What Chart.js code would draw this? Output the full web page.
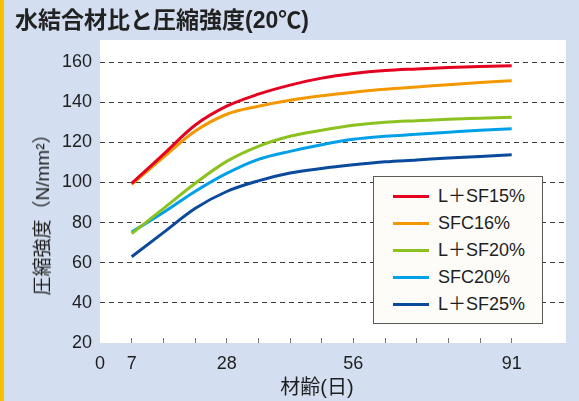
<!DOCTYPE html>
<html>
<head>
<meta charset="utf-8">
<script src="https://cdn.jsdelivr.net/npm/chart.js@4"></script>
<style>
  html, body { margin: 0; padding: 0; background: #d3def0; }
  #wrap { position: relative; width: 579px; height: 401px; overflow: hidden; background: #d3def0; }
  #wrap::before { content: ""; position: absolute; left: 0; top: 0; width: 4px; height: 401px; background: #f6c200; z-index: 3; }
  canvas { position: absolute; left: 0; top: 0; }
  .txt { position: absolute; color: #1e1e1e; white-space: nowrap; font-family: "Liberation Sans", "Noto Sans CJK JP", sans-serif; z-index: 2; }
  #title { left: 15px; top: 9px; font-size: 23px; line-height: 23px; font-weight: bold; color: #222; font-family: "Liberation Sans", "Noto Sans CJK JP", sans-serif; }
  #ytitle { left: 43px; top: 210px; font-size: 19px; line-height: 20px; transform: translate(-50%, -50%) rotate(-90deg); }
  #xtitle { left: 317px; top: 387px; font-size: 20px; line-height: 20px; transform: translate(-50%, -50%); }
  #legend { position: absolute; left: 373px; top: 176px; width: 168px; height: 146px; border: 1px solid #5a5a5a; background: #fdfcf8; box-sizing: content-box; padding: 0; z-index: 2; }
  #legend .row { position: absolute; left: 0; height: 27px; line-height: 27px; font-size: 18px; color: #1e1e1e; font-family: "Liberation Sans", "Noto Sans CJK JP", sans-serif; white-space: nowrap; }
  #legend .sw { position: absolute; left: 19px; top: 12px; width: 36px; height: 3px; }
  #legend .lb { position: absolute; left: 64px; top: 0; }
</style>
</head>
<body>
<div id="wrap">
  <canvas id="c" width="579" height="401"></canvas>
  <div class="txt" id="title">水結合材比と圧縮強度(20℃)</div>
  <div class="txt" id="ytitle">圧縮強度（N/mm²）</div>
  <div class="txt" id="xtitle">材齢(日)</div>
  <div id="legend"></div>
</div>
<script>
// ---- data ----
const days = [7, 14, 21, 28, 35, 42, 49, 56, 63, 70, 77, 84, 91];
const seriesNames = ["L＋SF15%", "SFC16%", "L＋SF20%", "SFC20%", "L＋SF25%"];
const lsf15 = [99.5, 114, 128.5, 138, 144, 148.5, 152, 154.3, 155.8, 156.6, 157.3, 157.8, 158.2];
const sfc16 = [99, 112.5, 125.5, 134, 138, 141, 143.2, 145, 146.5, 147.6, 148.7, 149.8, 150.7];
const lsf20 = [74.5, 87, 99.5, 110.5, 118, 123, 126, 128.5, 130, 130.8, 131.5, 132, 132.5];
const sfc20 = [75.3, 85, 95.5, 104.5, 111.5, 115.5, 118.8, 121.5, 123, 124, 125, 126, 126.8];
const lsf25 = [63, 75, 87, 95.5, 100.8, 104.7, 107, 108.8, 110.3, 111.2, 112.2, 113, 113.8];
const yTickValues = [20, 40, 60, 80, 100, 120, 140, 160];
const xTickValues = [0, 7, 14, 21, 28, 35, 42, 49, 56, 63, 70, 77, 84, 91];
const xLabelValues = [0, 7, 28, 56, 91];

// ---- styles ----
const seriesColors = ["#e60020", "#f39800", "#8cc21f", "#00a0e9", "#0a4a9c"];
const seriesData = [lsf15, sfc16, lsf20, sfc20, lsf25];

const FONT = '"Liberation Sans", "Noto Sans CJK JP", sans-serif';

const datasets = seriesNames.map((name, i) => ({
  label: name,
  data: days.map((d, j) => ({ x: d, y: seriesData[i][j] })),
  borderColor: seriesColors[i],
  backgroundColor: seriesColors[i],
  borderWidth: 3,
  pointRadius: 0,
  cubicInterpolationMode: 'monotone',
  fill: false,
  order: i
}));

const plotBg = {
  id: 'plotBg',
  beforeDraw(chart) {
    const { ctx, chartArea: a } = chart;
    ctx.save();
    ctx.fillStyle = '#ffffff';
    ctx.fillRect(a.left, a.top, a.right - a.left, a.bottom - a.top);
    ctx.restore();
  }
};

new Chart(document.getElementById('c'), {
  type: 'line',
  data: { datasets },
  plugins: [plotBg],
  options: {
    responsive: false,
    animation: false,
    layout: { padding: { top: 40, right: 13, left: 0, bottom: 0 } },
    plugins: { legend: { display: false }, tooltip: { enabled: false }, title: { display: false } },
    scales: {
      x: {
        type: 'linear',
        min: 0,
        max: 103,
        afterFit: s => { s.height = 58; },
        afterBuildTicks: s => { s.ticks = xTickValues.map(v => ({ value: v })); },
        ticks: {
          autoSkip: false,
          maxRotation: 0,
          padding: 15,
          color: '#1e1e1e',
          font: { family: FONT, size: 18 },
          callback: v => xLabelValues.includes(v) ? String(v) : ''
        },
        grid: {
          drawOnChartArea: false,
          drawTicks: true,
          tickLength: -5,
          color: ctx => (ctx.tick && ctx.tick.value === 0) ? 'rgba(0,0,0,0)' : '#777777',
          lineWidth: 1
        },
        border: { display: false }
      },
      y: {
        type: 'linear',
        min: 20,
        max: 171,
        afterFit: s => { s.width = 100; },
        afterBuildTicks: s => { s.ticks = yTickValues.map(v => ({ value: v })); },
        ticks: {
          padding: 8,
          color: '#1e1e1e',
          font: { family: FONT, size: 18 }
        },
        grid: {
          drawTicks: false,
          color: ctx => (ctx.tick && ctx.tick.value === 20) ? 'rgba(0,0,0,0)' : '#3c3c3c',
          lineWidth: 1
        },
        border: { display: false, dash: [5, 4] }
      }
    }
  }
});

// legend from the series arrays
const leg = document.getElementById('legend');
seriesNames.forEach((name, i) => {
  const row = document.createElement('div');
  row.className = 'row';
  row.style.top = (5.5 + i * 27) + 'px';
  const sw = document.createElement('div');
  sw.className = 'sw';
  sw.style.background = seriesColors[i];
  const lb = document.createElement('div');
  lb.className = 'lb';
  lb.textContent = name;
  row.appendChild(sw);
  row.appendChild(lb);
  leg.appendChild(row);
});
</script>
</body>
</html>
